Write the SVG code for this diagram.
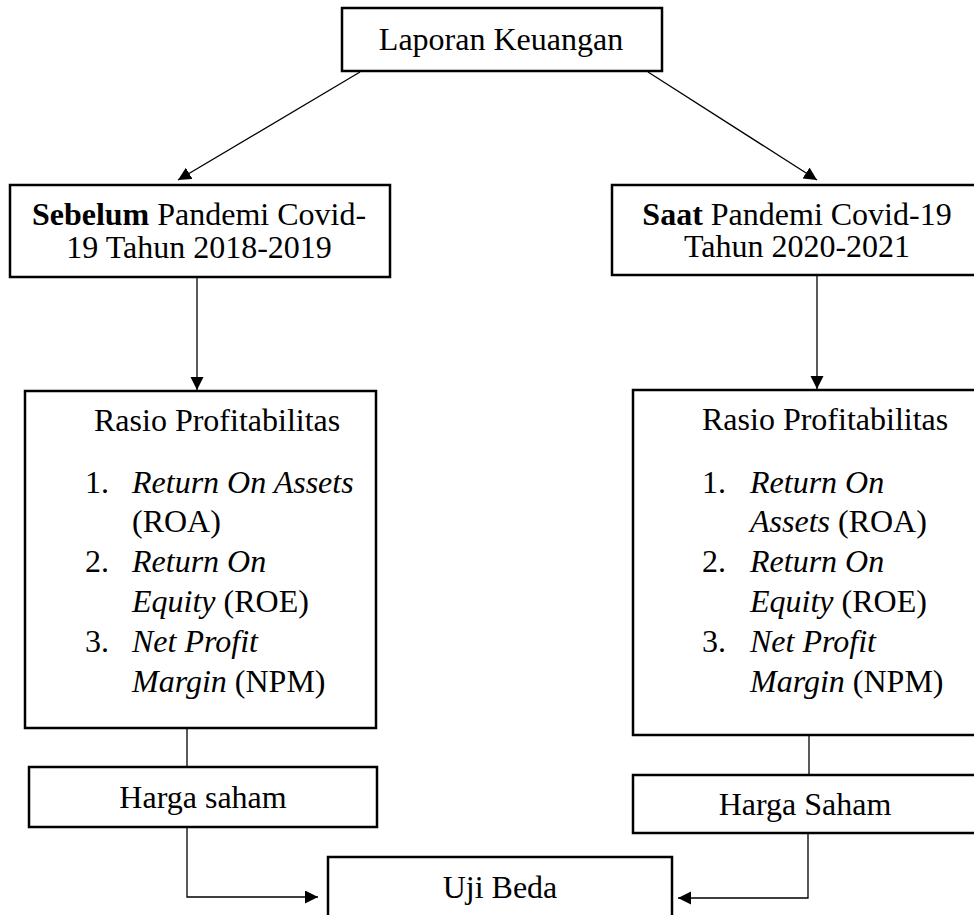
<svg xmlns="http://www.w3.org/2000/svg" width="974" height="915" viewBox="0 0 974 915">
<style>
.box{fill:#fff;stroke:#000;stroke-width:2.5}
.t{font-family:"Liberation Serif","Times New Roman",serif;font-size:32px;fill:#000}
.c{text-anchor:middle}
.conn{fill:none;stroke:#000;stroke-width:1.3}
</style>
<defs>
<marker id="ah" markerUnits="userSpaceOnUse" markerWidth="14" markerHeight="14" refX="13" refY="6.5" orient="auto">
<path d="M0,0 L13,6.5 L0,13 z" fill="#000"/>
</marker>
</defs>
<rect width="974" height="915" fill="#fff"/>
<g id="connectors">
<path class="conn" d="M360,72 L178,180" marker-end="url(#ah)"/>
<path class="conn" d="M648,72 L817,180" marker-end="url(#ah)"/>
<path class="conn" d="M197,278 L197,390" marker-end="url(#ah)"/>
<path class="conn" d="M817,276 L817,389" marker-end="url(#ah)"/>
<path class="conn" d="M187,729 L187,767"/>
<path class="conn" d="M809,736 L809,775"/>
<path class="conn" d="M187,828 L187,897 L318,897" marker-end="url(#ah)"/>
<path class="conn" d="M808,834 L808,898 L678,898" marker-end="url(#ah)"/>
</g>
<g id="laporan">
<rect class="box" x="342" y="8" width="320" height="63"/>
<text class="t c" x="501" y="50">Laporan Keuangan</text>
</g>
<g id="sebelum">
<rect class="box" x="10" y="185" width="380" height="92"/>
<text class="t c" x="199" y="225"><tspan font-weight="bold">Sebelum</tspan> Pandemi Covid-</text>
<text class="t c" x="199" y="258">19 Tahun 2018-2019</text>
</g>
<g id="saat">
<rect class="box" x="612" y="185" width="380" height="90"/>
<text class="t c" x="797" y="225"><tspan font-weight="bold">Saat</tspan> Pandemi Covid-19</text>
<text class="t c" x="797" y="257">Tahun 2020-2021</text>
</g>
<g id="rasio-left">
<rect class="box" x="25" y="391" width="351" height="337"/>
<text class="t" x="94" y="431">Rasio Profitabilitas</text>
<text class="t" x="85" y="493">1.</text>
<text class="t" x="132" y="493" font-style="italic">Return On Assets</text>
<text class="t" x="132" y="532">(ROA)</text>
<text class="t" x="85" y="572">2.</text>
<text class="t" x="132" y="572" font-style="italic">Return On</text>
<text class="t" x="132" y="612"><tspan font-style="italic">Equity</tspan> (ROE)</text>
<text class="t" x="85" y="652">3.</text>
<text class="t" x="132" y="652" font-style="italic">Net Profit</text>
<text class="t" x="132" y="692"><tspan font-style="italic">Margin</tspan> (NPM)</text>
</g>
<g id="rasio-right">
<rect class="box" x="633" y="390" width="360" height="345"/>
<text class="t" x="702" y="430">Rasio Profitabilitas</text>
<text class="t" x="702" y="493">1.</text>
<text class="t" x="750" y="493" font-style="italic">Return On</text>
<text class="t" x="750" y="532"><tspan font-style="italic">Assets</tspan> (ROA)</text>
<text class="t" x="702" y="572">2.</text>
<text class="t" x="750" y="572" font-style="italic">Return On</text>
<text class="t" x="750" y="612"><tspan font-style="italic">Equity</tspan> (ROE)</text>
<text class="t" x="702" y="652">3.</text>
<text class="t" x="750" y="652" font-style="italic">Net Profit</text>
<text class="t" x="750" y="692"><tspan font-style="italic">Margin</tspan> (NPM)</text>
</g>
<g id="harga-left">
<rect class="box" x="29" y="767" width="348" height="60"/>
<text class="t c" x="203" y="808">Harga saham</text>
</g>
<g id="harga-right">
<rect class="box" x="633" y="775" width="360" height="58"/>
<text class="t c" x="805" y="815">Harga Saham</text>
</g>
<g id="uji">
<rect class="box" x="328" y="857" width="344" height="70"/>
<text class="t c" x="500" y="898">Uji Beda</text>
</g>
</svg>
